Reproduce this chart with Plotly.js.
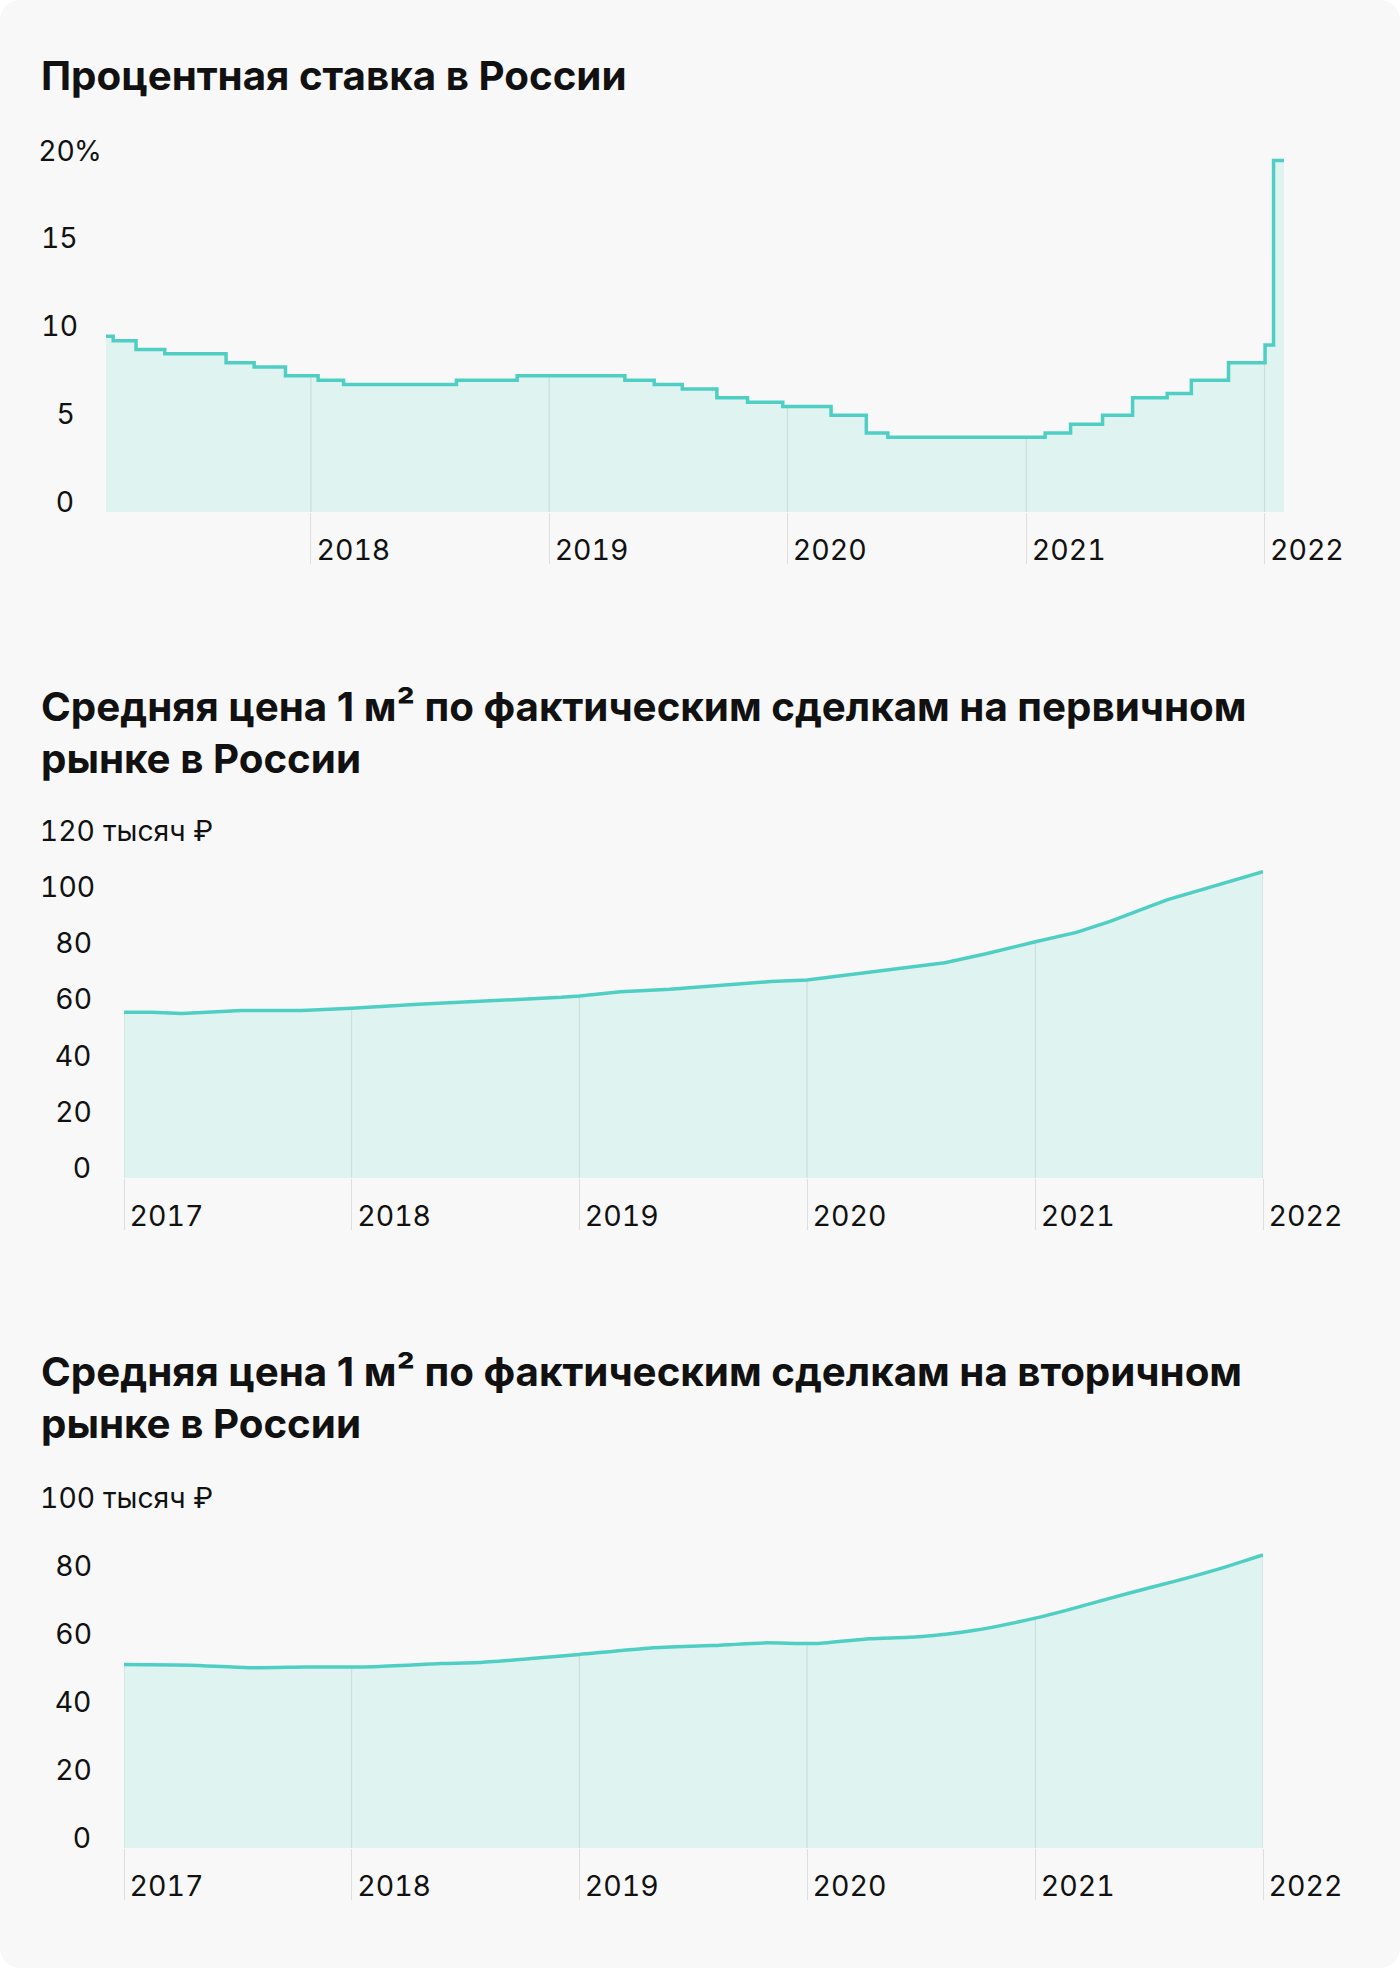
<!DOCTYPE html>
<html><head><meta charset="utf-8">
<script src="https://cdn.plot.ly/plotly-3.0.1.min.js"></script>
<style>
html,body{margin:0;padding:0;background:#ffffff;}
#card{position:absolute;left:0;top:0;width:1400px;height:1968px;background:#f8f8f8;border-radius:20px;overflow:hidden;}
.ch{position:absolute;left:0;width:1400px;}
.ch svg .xtick text, .ch svg text.annotation-text{font-variant-numeric:tabular-nums;font-feature-settings:"tnum" 1;}
</style></head><body>
<div id="card">
<div id="c1" class="ch" style="top:0;height:640px"></div>
<div id="c2" class="ch" style="top:640px;height:640px"></div>
<div id="c3" class="ch" style="top:1280px;height:688px"></div>
</div>
<script>
// ---------- DATA ----------
const rateDates = ['2017-02-21','2017-03-04','2017-04-08','2017-05-22','2017-08-24','2017-10-06','2017-11-23',
  '2018-01-12','2018-02-20','2018-08-12','2018-11-13','2019-04-27','2019-06-11','2019-07-24','2019-09-15',
  '2019-11-01','2019-12-25','2020-03-08','2020-05-01','2020-06-03','2021-01-30','2021-03-10','2021-04-28',
  '2021-06-13','2021-08-05','2021-09-11','2021-11-07','2022-01-02','2022-01-15','2022-01-31'];
const rateValues = [10,9.75,9.25,9,8.5,8.25,7.75,7.5,7.25,7.5,7.75,7.5,7.25,7,6.5,6.25,6,5.5,4.5,4.25,4.5,5,5.5,6.5,6.75,7.5,8.5,9.5,20,20];

const primaryDates = ['2017-01-01','2017-02-14','2017-04-04','2017-07-08','2017-10-13','2018-01-01','2018-04-18',
  '2018-06-17','2018-09-22','2018-12-03','2019-01-01','2019-03-08','2019-05-26','2019-07-31','2019-09-11',
  '2019-11-04','2020-01-01','2020-02-22','2020-04-28','2020-06-16','2020-08-09','2020-10-14','2020-12-13',
  '2021-01-01','2021-03-08','2021-05-01','2021-07-31','2021-10-28','2022-01-01'];
const primaryValues = [59.0,59.0,58.5,59.6,59.6,60.4,61.8,62.4,63.6,64.3,64.8,66.3,67.2,68.3,68.8,69.9,70.5,71.9,
  73.8,74.9,76.6,79.8,83.2,84.1,87.4,91.3,99.0,104.7,109.0];

const secondaryDates = ['2017-01-01','2017-04-16','2017-07-20','2017-10-19','2018-02-05','2018-05-24','2018-07-23',
  '2018-10-16','2019-01-01','2019-04-26','2019-07-31','2019-10-24','2020-01-16','2020-04-10','2020-06-28',
  '2020-09-26','2021-01-01','2021-02-18','2021-06-01','2021-08-18','2021-10-28','2022-01-01'];
const secondaryValues = [54.0,53.8,53.1,53.3,53.4,54.3,54.6,55.8,57.0,58.9,59.6,60.4,60.2,61.6,62.2,64.1,67.7,
  69.9,75.1,78.8,82.5,86.3];

const rateYearTicks = ['2018-01-01','2019-01-01','2020-01-01','2021-01-01','2022-01-01'];
const rateYearLabels = ['2018','2019','2020','2021','2022'];
const priceYearTicks = ['2017-01-01','2018-01-01','2019-01-01','2020-01-01','2021-01-01','2022-01-01'];
const priceYearLabels = ['2017','2018','2019','2020','2021','2022'];

const rateTicks = [0,5,10,15,20];
const rateTickLabels = ['0','5','10','15','20'];
const primaryTicks = [0,20,40,60,80,100,120];
const primaryTickLabels = ['0','20','40','60','80','100','120'];
const secondaryTicks = [0,20,40,60,80,100];
const secondaryTickLabels = ['0','20','40','60','80','100'];

const titles = ['Процентная ставка в России',
  'Средняя цена 1 м² по фактическим сделкам на первичном<br>рынке в России',
  'Средняя цена 1 м² по фактическим сделкам на вторичном<br>рынке в России'];
const unitRate = '%';
const unitPrice = ' тысяч ₽';

// ---------- STYLE ----------
const LINE = '#4fcfc4';
const FILL = '#dff3f0';
const GRID = 'rgba(0,0,0,0.10)';
const TEXT = '#111111';
const FONT = 'Inter, "Noto Sans", sans-serif';

function ms(d){ return Date.parse(d + 'T00:00:00Z'); }
function valueAt(dates, vals, d, step){
  const t = ms(d);
  for(let i = dates.length - 1; i >= 0; i--){
    const ti = ms(dates[i]);
    if(ti <= t){
      if(step || i === dates.length - 1 || ti === t) return vals[i];
      const t2 = ms(dates[i+1]);
      return vals[i] + (vals[i+1]-vals[i])*(t-ti)/(t2-ti);
    }
  }
  return null;
}
function traces(dates, vals, ticks, shape, smoothing){
  const xs = [], ys = [];
  ticks.forEach(t => {
    if(ms(t) >= ms(dates[0]) && ms(t) <= ms(dates[dates.length-1])){
      xs.push(t, t, null); ys.push(0, valueAt(dates, vals, t, shape === 'hv'), null);
    }
  });
  const ln = {shape: shape, color: LINE, width: 3.5};
  if(smoothing) ln.smoothing = smoothing;
  return [
    {x: dates, y: vals, type:'scatter', mode:'lines', fill:'tozeroy', fillcolor: FILL,
     line:{shape: shape, width:0, color:'rgba(0,0,0,0)', smoothing: smoothing || 1}, hoverinfo:'skip'},
    {x: xs, y: ys, type:'scatter', mode:'lines', line:{color: GRID, width:1}, hoverinfo:'skip'},
    {x: dates, y: vals, type:'scatter', mode:'lines', line: ln, hoverinfo:'skip'}
  ];
}
// y-axis labels: numbers right-aligned just left of the plot, the unit runs on after the top number
function yLabels(ticks, labels, unit, numShift, unitShift){
  const f = {family:FONT, size:28.3, color:TEXT};
  const common = {xref:'paper', x:0, yref:'y', yanchor:'bottom', yshift:-7,
                  showarrow:false, borderpad:0, borderwidth:0, font:f};
  const anns = ticks.map((v, i) => Object.assign({text:labels[i], xanchor:'right', xshift:numShift, y:v}, common));
  anns.push(Object.assign({text:unit, xanchor:'left', xshift:unitShift, y:ticks[ticks.length-1]}, common));
  return anns;
}
function layout(o){
  return {
    width:1400, height:o.h,
    paper_bgcolor:'rgba(0,0,0,0)', plot_bgcolor:'rgba(0,0,0,0)',
    margin:{l:o.l, r:o.r, t:o.t, b:o.b, pad:0},
    showlegend:false,
    font:{family:FONT, color:TEXT, size:29},
    title:{text:o.title, xref:'container', x:41/1400, xanchor:'left',
           yref:'container', y:1 - o.titleTop/o.h, yanchor:'top',
           font:{family:FONT, weight:700, size:40.3, color:TEXT}},
    xaxis:{type:'date', range:o.xr, tickmode:'array', tickvals:o.xt, ticktext:o.xl,
           ticks:'outside', ticklen:51, tickwidth:1, tickcolor:'#dedede',
           ticklabelposition:'outside right', ticklabelstandoff:13, ticklabelshift:5,
           showgrid:false, zeroline:false, showline:false,
           tickfont:{family:FONT, size:28.5, color:TEXT}, fixedrange:true},
    yaxis:{range:o.yr, tickmode:'array', tickvals:o.yt, ticks:'', showticklabels:false,
           showgrid:false, zeroline:false, showline:false, fixedrange:true},
    annotations: yLabels(o.yt, o.yl, o.unit, o.ns, o.us)
  };
}
const cfg = {staticPlot:true, displayModeBar:false};

Plotly.newPlot('c1', traces(rateDates, rateValues, rateYearTicks, 'hv'), layout({
  h:640, l:106, r:116, t:142.5, b:128.3, title:titles[0], titleTop:61.5,
  xr:['2017-02-21','2022-01-31'], xt:rateYearTicks, xl:rateYearLabels,
  yr:[0,21], yt:rateTicks, yl:rateTickLabels, unit:unitRate, ns:-32, us:-32
}), cfg);

Plotly.newPlot('c2', traces(primaryDates, primaryValues, priceYearTicks, 'linear'), layout({
  h:640, l:123.5, r:137, t:198.4, b:102.3, title:titles[1], titleTop:80.6,
  xr:['2017-01-01','2022-01-01'], xt:priceYearTicks, xl:priceYearLabels,
  yr:[0,121], yt:primaryTicks, yl:primaryTickLabels, unit:unitPrice, ns:-33.3, us:-29.5
}), cfg);

Plotly.newPlot('c3', traces(secondaryDates, secondaryValues, priceYearTicks, 'spline', 0.6), layout({
  h:688, l:123.5, r:137, t:225.3, b:120.3, title:titles[2], titleTop:105.6,
  xr:['2017-01-01','2022-01-01'], xt:priceYearTicks, xl:priceYearLabels,
  yr:[0,101], yt:secondaryTicks, yl:secondaryTickLabels, unit:unitPrice, ns:-33.3, us:-29.5
}), cfg);
</script>
</body></html>
